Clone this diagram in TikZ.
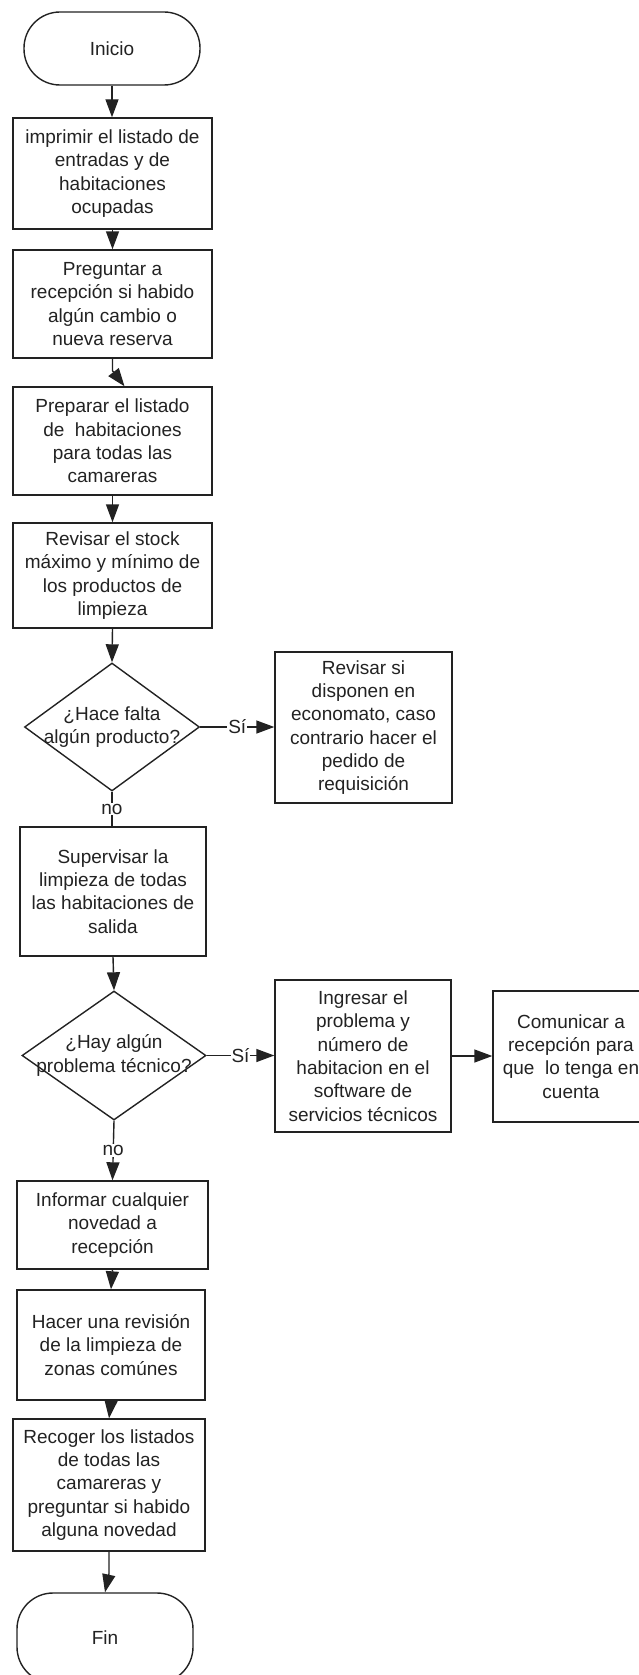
\documentclass[tikz,border=0pt]{standalone}
\usepackage{fontspec}
\setmainfont{Liberation Sans}
\usetikzlibrary{arrows.meta,shapes.geometric,calc}
\definecolor{ink}{HTML}{222222}
\begin{document}
\begin{tikzpicture}[x=1pt,y=-1pt,
  every node/.style={font=\fontsize{19}{23.3}\selectfont, text=ink},
  box/.style={draw=ink, line width=1.4pt, rectangle, align=center, inner sep=0pt},
  term/.style={draw=ink, line width=1.4pt, rectangle, rounded corners=36pt, align=center, inner sep=0pt},
  decision/.style={draw=ink, line width=1.4pt, diamond, inner sep=0pt},
  flow/.style={draw=ink, line width=1.4pt, -{Triangle[length=18pt,width=13pt]}},
  plain/.style={draw=ink, line width=1.4pt},
  lbl/.style={fill=white, inner sep=1pt}
]
\useasboundingbox (0,0) rectangle (638,1675);

% main column
\node[term, minimum width=176pt, minimum height=73pt] (ini) at (112,48.5) {Inicio};
\node[box, minimum width=199pt, minimum height=111pt] (b1) at (112.5,173.5)
  {imprimir el listado de\\entradas y de\\habitaciones\\ocupadas};
\node[box, minimum width=199pt, minimum height=108pt] (b2) at (112.5,304)
  {Preguntar a\\recepción si habido\\algún cambio o\\nueva reserva};
\node[box, minimum width=199pt, minimum height=108pt] (b3) at (112.5,441)
  {Preparar el listado\\de\ \ habitaciones\\para todas las\\camareras};
\node[box, minimum width=199pt, minimum height=105pt] (b4) at (112.5,575.5)
  {Revisar el stock\\máximo y mínimo de\\los productos de\\limpieza};

% first decision
\node[decision, minimum width=175pt, minimum height=128pt] (d1) at (112,727) {};
\node[align=center, inner sep=0pt] (d1t) at (d1.center) {¿Hace falta\\algún producto?};
\node[box, minimum width=177pt, minimum height=151pt] (b5) at (363.5,727.5)
  {Revisar si\\disponen en\\economato, caso\\contrario hacer el\\pedido de\\requisición};

\node[box, minimum width=186pt, minimum height=129pt] (b6) at (113,891.5)
  {Supervisar la\\limpieza de todas\\las habitaciones de\\salida};

% second decision
\node[decision, minimum width=184pt, minimum height=129pt] (d2) at (114,1055.5) {};
\node[align=center, inner sep=0pt] (d2t) at (d2.center) {¿Hay algún\\problema técnico?};
\node[box, minimum width=176pt, minimum height=152pt] (b7) at (363,1056)
  {Ingresar el\\problema y\\número de\\habitacion en el\\software de\\servicios técnicos};
\node[box, minimum width=156pt, minimum height=131pt] (b8) at (571,1056.5)
  {Comunicar a\\recepción para\\que\ \ lo tenga en\\cuenta};

\node[box, minimum width=191pt, minimum height=88pt] (b9) at (112.5,1225)
  {Informar cualquier\\novedad a\\recepción};
\node[box, minimum width=188pt, minimum height=110pt] (b10) at (111,1345)
  {Hacer una revisión\\de la limpieza de\\zonas comúnes};
\node[box, minimum width=192pt, minimum height=132pt] (b11) at (109,1485)
  {Recoger los listados\\de todas las\\camareras y\\preguntar si habido\\alguna novedad};
\node[term, minimum width=176pt, minimum height=90pt] (fin) at (105,1638) {Fin};

% connectors
\draw[flow] (ini.south) -- (ini.south |- b1.north);
\draw[flow] (b1.south) -- (b2.north);
\draw[flow] (b2.south) -- ++(0,12) -- ($(b3.north)+(12,0)$);
\draw[flow] (b3.south) -- (b4.north);
\draw[flow] (b4.south) -- (d1.north);
\draw[flow] (d1.east) -- node[lbl]{Sí} (d1.east -| b5.west);
\draw[plain] (d1.south) -- node[lbl]{no} (d1.south |- b6.north);
\draw[flow] (b6.south) -- (d2.north);
\draw[flow] (d2.east) -- node[lbl]{Sí} (d2.east -| b7.west);
\draw[flow] (b7.east) -- (b7.east -| b8.west);
\draw[flow] (d2.south) -- node[lbl]{no} (b9.north);
\draw[flow] (b9.south) -- (b10.north);
\draw[flow] (b10.south) -- (b11.north);
\draw[flow] (b11.south) -- ++(0,22) -- (fin.north);
\end{tikzpicture}
\end{document}
